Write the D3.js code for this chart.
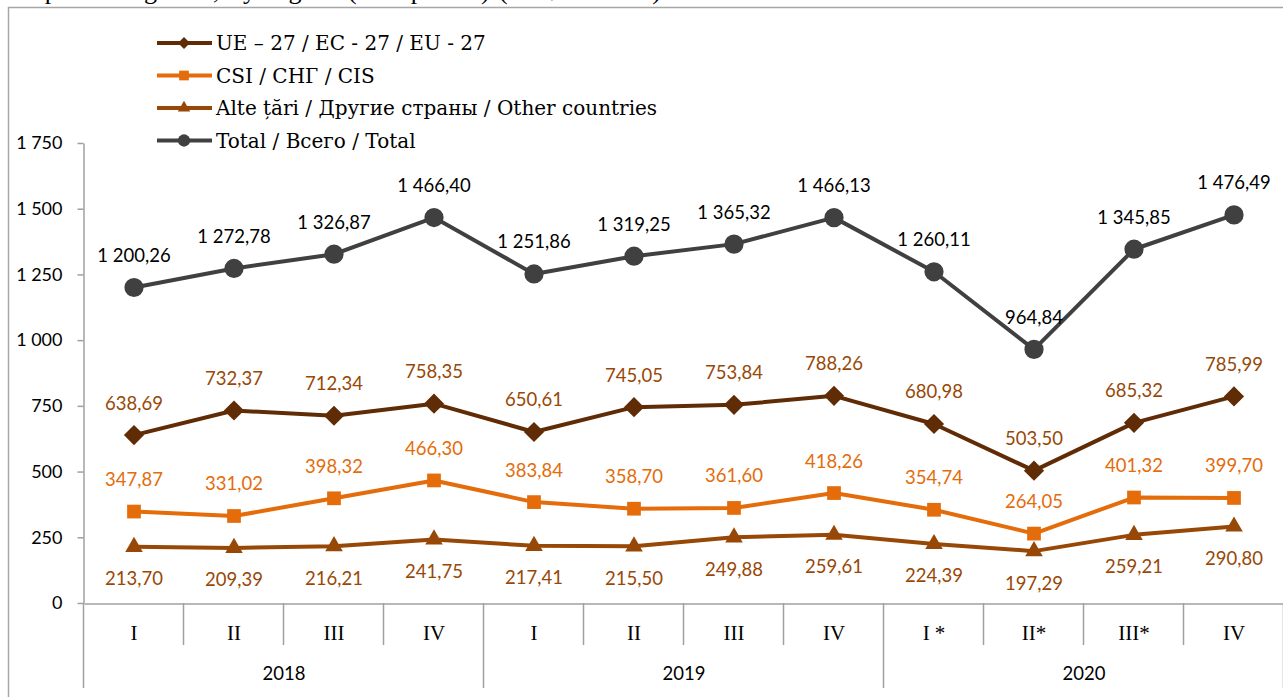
<!DOCTYPE html>
<html>
<head>
<meta charset="utf-8">
<script src="https://cdn.jsdelivr.net/npm/d3@7"></script>
<style>
  body { margin: 0; background: #fff; }
  svg { display: block; }
</style>
</head>
<body>
<div id="chart"></div>
<script>
// data
const quarters = ["I", "II", "III", "IV", "I", "II", "III", "IV", "I *", "II*", "III*", "IV"];
const years = ["2018", "2019", "2020"];
const yTicks = [0, 250, 500, 750, 1000, 1250, 1500, 1750];

const ueValues = [638.69, 732.37, 712.34, 758.35, 650.61, 745.05, 753.84, 788.26, 680.98, 503.50, 685.32, 785.99];
const csiValues = [347.87, 331.02, 398.32, 466.30, 383.84, 358.70, 361.60, 418.26, 354.74, 264.05, 401.32, 399.70];
const otherValues = [213.70, 209.39, 216.21, 241.75, 217.41, 215.50, 249.88, 259.61, 224.39, 197.29, 259.21, 290.80];
const totalValues = [1200.26, 1272.78, 1326.87, 1466.40, 1251.86, 1319.25, 1365.32, 1466.13, 1260.11, 964.84, 1345.85, 1476.49];

const seriesNames = [
  "UE – 27 / EC - 27 / EU - 27",
  "CSI / СНГ / CIS",
  "Alte țări / Другие страны / Other countries",
  "Total / Всего / Total"
];

const width = 1283, height = 697;
const sans = "Lato, 'Open Sans', sans-serif";
const serif = "'Liberation Serif', 'DejaVu Serif', serif";
const legendFont = "'DejaVu Serif', serif";

const locale = d3.formatLocale({decimal: ",", thousands: " ", grouping: [3], currency: ["", ""]});
const fmtVal = locale.format(",.2f");
const fmtTick = locale.format(",d");

const series = [
  {name: seriesNames[0], values: ueValues, color: "#5f2c06", labelColor: "#984806", symbol: d3.symbolDiamond2, size: 260, legSize: 90, label: "above"},
  {name: seriesNames[1], values: csiValues, color: "#e46c0a", labelColor: "#e46c0a", symbol: d3.symbolSquare2, size: 240, legSize: 120, label: "above"},
  {name: seriesNames[2], values: otherValues, color: "#984806", labelColor: "#984806", symbol: d3.symbolTriangle2, size: 220, legSize: 110, label: "below"},
  {name: seriesNames[3], values: totalValues, color: "#404040", labelColor: "#000", symbol: d3.symbolCircle, size: 290, legSize: 120, label: "above"}
];

const svg = d3.select("#chart").append("svg")
  .attr("width", width)
  .attr("height", height);

svg.append("rect").attr("width", width).attr("height", height).attr("fill", "#fff");

// title of the page above the chart, cut off by the top edge as in the reference
svg.append("text")
  .attr("x", 13).attr("y", -1.5)
  .attr("textLength", 648)
  .attr("font-family", serif)
  .attr("font-size", 26)
  .text("Imports of goods, by region (CIF prices) (US$ million)");

// chart frame
svg.append("rect")
  .attr("x", 8.5).attr("y", 7.5)
  .attr("width", 1290).attr("height", 700)
  .attr("fill", "none")
  .attr("stroke", "#a6a6a6")
  .attr("stroke-width", 1.5);

const x = d3.scaleBand()
  .domain(d3.range(quarters.length))
  .range([84, 1284]);

const xYear = d3.scaleBand()
  .domain(years)
  .range([84, 1284]);

const y = d3.scaleLinear()
  .domain([0, 1750])
  .range([603, 143]);

const axisColor = "#a0a0a0";

// Y axis
const yAxis = svg.append("g")
  .attr("transform", "translate(83.5,0)")
  .call(d3.axisLeft(y).tickValues(yTicks).tickSize(6).tickSizeOuter(0).tickPadding(15).tickFormat(fmtTick));
yAxis.select(".domain").attr("stroke", axisColor).attr("stroke-width", 1.5);
yAxis.selectAll(".tick line").attr("stroke", axisColor).attr("stroke-width", 1.5);
yAxis.selectAll("text").attr("font-family", sans).attr("font-size", 18).attr("fill", "#000");

// X axis (quarters)
const xAxis = svg.append("g")
  .attr("transform", "translate(0,603.5)")
  .call(d3.axisBottom(x).tickSize(0).tickSizeOuter(0).tickFormat(i => quarters[i]));
xAxis.select(".domain").attr("stroke", axisColor).attr("stroke-width", 1.5);
xAxis.selectAll("text")
  .attr("y", 29).attr("dy", "0.35em")
  .attr("font-family", serif).attr("font-size", 21).attr("fill", "#000");

// dividers between categories; longer ones between years
const bounds = d3.range(quarters.length + 1);
svg.append("g").selectAll("line")
  .data(bounds)
  .join("line")
  .attr("x1", i => (i < quarters.length ? x(i) : x.range()[1]) - 0.5)
  .attr("x2", i => (i < quarters.length ? x(i) : x.range()[1]) - 0.5)
  .attr("y1", 603)
  .attr("y2", i => i % 4 === 0 ? 688 : 645)
  .attr("stroke", axisColor)
  .attr("stroke-width", 1.5);

// year labels
svg.append("g").selectAll("text")
  .data(years)
  .join("text")
  .attr("x", d => xYear(d) + xYear.bandwidth() / 2)
  .attr("y", 674)
  .attr("dy", "0.35em")
  .attr("text-anchor", "middle")
  .attr("font-family", sans)
  .attr("font-size", 18.5)
  .text(d => d);

// lines, markers and value labels
const cx = i => x(i) + x.bandwidth() / 2;
const line = d3.line().x((d, i) => cx(i)).y(d => y(d));

series.forEach(s => {
  const g = svg.append("g");
  g.append("path")
    .datum(s.values)
    .attr("d", line)
    .attr("fill", "none")
    .attr("stroke", s.color)
    .attr("stroke-width", 4)
    .attr("stroke-linejoin", "round");

  g.selectAll(".mark")
    .data(s.values)
    .join("path")
    .attr("class", "mark")
    .attr("transform", (d, i) => `translate(${cx(i)},${y(d)})`)
    .attr("d", d3.symbol().type(s.symbol).size(s.size))
    .attr("fill", s.color);

  g.selectAll(".lbl")
    .data(s.values)
    .join("text")
    .attr("class", "lbl")
    .attr("x", (d, i) => cx(i))
    .attr("y", d => y(d) + (s.label === "above" ? -32 : 32))
    .attr("dy", "0.35em")
    .attr("text-anchor", "middle")
    .attr("font-family", sans)
    .attr("font-size", 18.5)
    .attr("fill", s.labelColor)
    .text(d => fmtVal(d));
});

// legend
const legend = svg.append("g");
series.forEach((s, k) => {
  const ly = 43 + k * 32.5;
  legend.append("line")
    .attr("x1", 157).attr("x2", 212)
    .attr("y1", ly).attr("y2", ly)
    .attr("stroke", s.color)
    .attr("stroke-width", 4);
  legend.append("path")
    .attr("transform", `translate(184,${ly})`)
    .attr("d", d3.symbol().type(s.symbol).size(s.legSize))
    .attr("fill", s.color);
  legend.append("text")
    .attr("x", 216).attr("y", ly)
    .attr("dy", "0.35em")
    .attr("font-family", legendFont)
    .attr("font-size", 20)
    .text(s.name);
});
</script>
</body>
</html>
